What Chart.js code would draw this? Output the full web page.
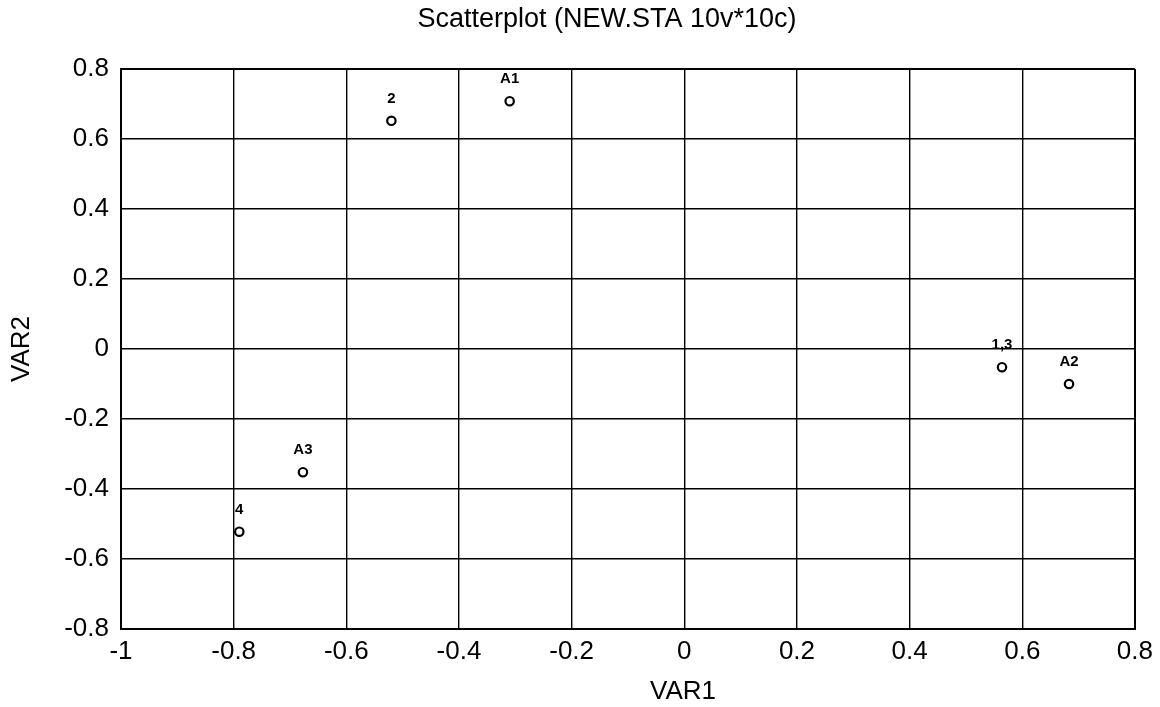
<!DOCTYPE html>
<html>
<head>
<meta charset="utf-8">
<script src="https://cdn.jsdelivr.net/npm/chart.js@4.4.1/dist/chart.umd.min.js"></script>
<style>
  html, body { margin: 0; padding: 0; background: #fff; }
  #wrap { width: 1160px; height: 707px; }
</style>
</head>
<body>
<div id="wrap"><canvas id="chart1"></canvas></div>
<script>
// values
const pointLabels = ['2', 'A1', 'A3', '4', '1,3', 'A2'];
const var1 = [-0.52, -0.31, -0.677, -0.79, 0.564, 0.683];
const var2 = [0.652, 0.708, -0.352, -0.522, -0.052, -0.10];

const xTicks = [-1, -0.8, -0.6, -0.4, -0.2, 0, 0.2, 0.4, 0.6, 0.8];
const yTicks = [-0.8, -0.6, -0.4, -0.2, 0, 0.2, 0.4, 0.6, 0.8];

const chartTitle = 'Scatterplot (NEW.STA 10v*10c)';
const xTitle = 'VAR1';
const yTitle = 'VAR2';

const FONT = "'Liberation Sans', Arial, sans-serif";

function fmt(v) {
    return Number(v.toFixed(1)).toString();
}

// labels above each point
const pointLabelPlugin = {
    id: 'pointLabels',
    afterDatasetsDraw(chart) {
        const ctx = chart.ctx;
        const meta = chart.getDatasetMeta(0);
        ctx.save();
        ctx.fillStyle = '#000';
        ctx.font = 'bold 15px ' + FONT;
        ctx.textAlign = 'center';
        ctx.textBaseline = 'middle';
        meta.data.forEach(function (el, i) {
            ctx.fillText(pointLabels[i], el.x, el.y - 22);
        });
        ctx.restore();
    }
};

// the scan puts the chart title and VAR1 off the plot centre
const titlePlugin = {
    id: 'scanTitles',
    afterDraw(chart) {
        const ctx = chart.ctx;
        ctx.save();
        ctx.fillStyle = '#000';
        ctx.textAlign = 'center';
        ctx.textBaseline = 'middle';
        ctx.font = '27px ' + FONT;
        ctx.fillText(chartTitle, 607, 20);
        ctx.font = '26px ' + FONT;
        ctx.fillText(xTitle, 683, 692);
        ctx.restore();
    }
};

function edgeWidth(min, max) {
    return function (c) {
        const v = c.tick ? c.tick.value : null;
        if (v === null) return 1;
        if (Math.abs(v - min) < 1e-9 || Math.abs(v - max) < 1e-9) return 2;
        return 1.4;
    };
}

document.addEventListener('DOMContentLoaded', function () {
    const ctx = document.getElementById('chart1').getContext('2d');
    new Chart(ctx, {
        type: 'scatter',
        data: {
            datasets: [{
                data: var1.map((x, i) => ({ x: x, y: var2[i] })),
                pointStyle: 'circle',
                pointRadius: 4.2,
                pointBorderWidth: 2.2,
                pointBorderColor: '#000',
                pointBackgroundColor: '#fff',
                pointHoverRadius: 4.2
            }]
        },
        options: {
            responsive: true,
            maintainAspectRatio: false,
            animation: false,
            events: [],
            layout: { padding: { top: 69, right: 25, left: 0, bottom: 0 } },
            plugins: {
                legend: { display: false },
                tooltip: { enabled: false },
                title: { display: false }
            },
            scales: {
                x: {
                    type: 'linear',
                    min: -1,
                    max: 0.8,
                    afterBuildTicks: function (scale) {
                        scale.ticks = xTicks.map(v => ({ value: v }));
                    },
                    afterFit: function (scale) { scale.height = 78; },
                    border: { display: true, color: '#000', width: 2 },
                    grid: {
                        color: '#000',
                        lineWidth: edgeWidth(-1, 0.8),
                        drawTicks: false
                    },
                    ticks: {
                        color: '#000',
                        padding: 7,
                        maxRotation: 0,
                        font: { family: FONT, size: 26 },
                        callback: fmt
                    },
                    title: { display: false }
                },
                y: {
                    type: 'linear',
                    min: -0.8,
                    max: 0.8,
                    afterBuildTicks: function (scale) {
                        scale.ticks = yTicks.map(v => ({ value: v }));
                    },
                    afterFit: function (scale) { scale.width = 121; },
                    border: { display: true, color: '#000', width: 2 },
                    grid: {
                        color: '#000',
                        lineWidth: edgeWidth(-0.8, 0.8),
                        drawTicks: false
                    },
                    ticks: {
                        color: '#000',
                        padding: 12,
                        font: { family: FONT, size: 26 },
                        callback: fmt
                    },
                    title: {
                        display: true,
                        text: yTitle,
                        color: '#000',
                        font: { family: FONT, size: 26 },
                        padding: { top: 6, bottom: 0 }
                    }
                }
            }
        },
        plugins: [pointLabelPlugin, titlePlugin]
    });
});
</script>
</body>
</html>
